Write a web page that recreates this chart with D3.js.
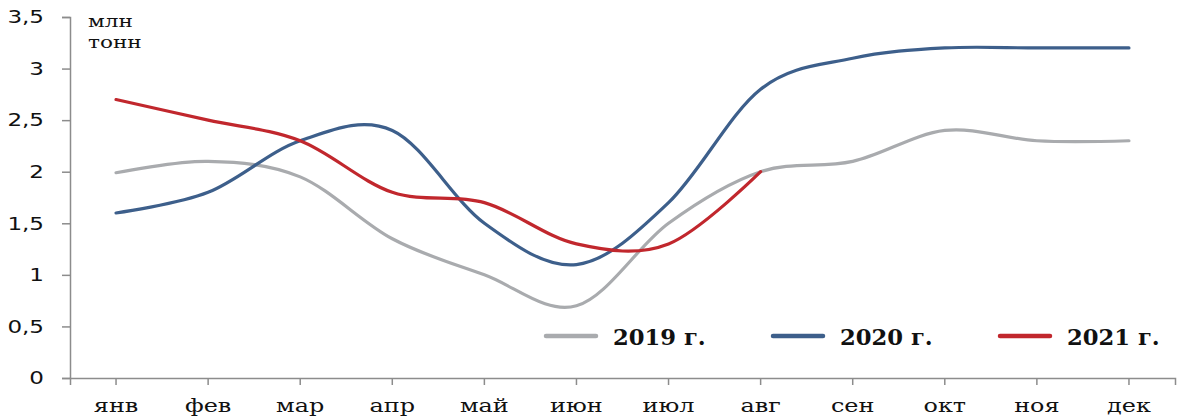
<!DOCTYPE html>
<html><head><meta charset="utf-8">
<script src="https://cdn.jsdelivr.net/npm/d3@7"></script>
<style>body{margin:0;background:#fff}</style>
</head><body>
<svg id="c" width="1177" height="418"></svg>
<script>
const months = ["янв","фев","мар","апр","май","июн","июл","авг","сен","окт","ноя","дек"];
const yTicks = [0,0.5,1,1.5,2,2.5,3,3.5];
const s2019 = [1.99,2.1,1.95,1.35,1.0,0.7,1.5,2.0,2.1,2.4,2.3,2.3];
const s2020 = [1.6,1.8,2.3,2.4,1.5,1.1,1.7,2.8,3.1,3.2,3.2,3.2];
const s2021 = [2.7,2.5,2.3,1.8,1.7,1.3,1.3,2.0];
const seriesNames = ["2019 г.","2020 г.","2021 г."];
const colors = ["#a9abae","#3d5f8b","#c1272d"];

(function(){
const svg = d3.select("#c");
const mL=70, mR=1175, mT=17, mB=378;
const x = d3.scaleBand().domain(months).range([mL,mR]);
const y = d3.scaleLinear().domain([0,3.5]).range([mB,mT]);
const serif = "'DejaVu Serif', 'Liberation Serif', serif";
const sans = "'DejaVu Sans', Verdana, sans-serif";

// y axis
const ya = svg.append("g").attr("transform",`translate(${mL},0)`)
  .call(d3.axisLeft(y).tickValues(yTicks).tickSize(8).tickPadding(8)
    .tickFormat(d=>String(d).replace(".",",")));
ya.select(".domain").attr("stroke","#8c8c8c").attr("stroke-width",1.5);
ya.selectAll(".tick line").attr("stroke","#8c8c8c").attr("stroke-width",1.5);
ya.selectAll("text").attr("font-family",sans).attr("font-size",18).attr("fill","#111")
  .attr("x",0).attr("transform","translate(-26,0) scale(1.28,1)");

// x axis
const xa = svg.append("g").attr("transform",`translate(0,${mB})`)
  .call(d3.axisBottom(x).tickSize(7).tickSizeOuter(7).tickPadding(14));
xa.select(".domain").attr("stroke","#8c8c8c").attr("stroke-width",1.5);
xa.selectAll(".tick line").attr("stroke","#8c8c8c").attr("stroke-width",1.5);
xa.selectAll("text").attr("font-family",serif).attr("font-size",18).attr("fill","#111")
  .attr("transform","scale(1.33,1)");

// units
svg.append("text").attr("transform","translate(88,27) scale(1.27,1)").text("млн").attr("font-family",serif).attr("font-size",17).attr("fill","#111");
svg.append("text").attr("transform","translate(88,48) scale(1.27,1)").text("тонн").attr("font-family",serif).attr("font-size",17).attr("fill","#111");

const line = d3.line()
  .x((d,i)=>x(months[i])+x.bandwidth()/2)
  .y(d=>y(d))
  .curve(d3.curveCardinal.tension(0));

[s2019,s2020,s2021].forEach((s,k)=>{
  svg.append("path").datum(s).attr("d",line)
    .attr("fill","none").attr("stroke",colors[k]).attr("stroke-width",3.2)
    .attr("stroke-linecap","round");
});

// legend
const legX = [546,773,1000];
seriesNames.forEach((n,k)=>{
  svg.append("line").attr("x1",legX[k]).attr("x2",legX[k]+50).attr("y1",336).attr("y2",336)
    .attr("stroke",colors[k]).attr("stroke-width",4.5).attr("stroke-linecap","round");
  svg.append("text").attr("transform",`translate(${legX[k]+67},345) scale(1.03,1)`).text(n)
    .attr("font-family",serif).attr("font-weight","bold").attr("font-size",22).attr("fill","#111");
});
})();
</script>
</body></html>
